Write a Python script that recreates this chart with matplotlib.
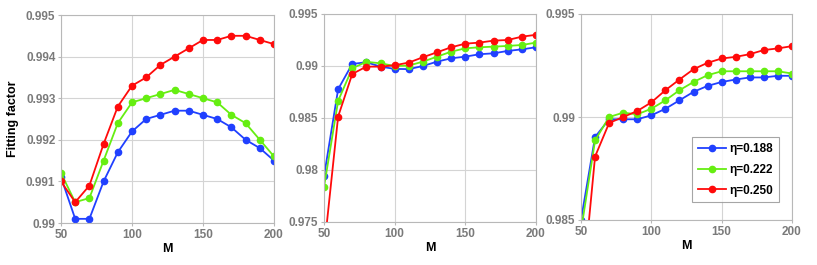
import matplotlib
matplotlib.use("Agg")
import matplotlib.pyplot as plt

M = [50, 60, 70, 80, 90, 100, 110, 120, 130, 140, 150, 160, 170, 180, 190, 200]
labels = ["\u03b7=0.188", "\u03b7=0.222", "\u03b7=0.250"]
colors = ["#2040ff", "#66ee11", "#ff0a0a"]

p1_blue = [0.9911, 0.9901, 0.9901, 0.9910, 0.9917, 0.9922, 0.9925, 0.9926, 0.9927, 0.9927, 0.9926, 0.9925, 0.9923, 0.9920, 0.9918, 0.9915]
p1_green = [0.9912, 0.9905, 0.9906, 0.9915, 0.9924, 0.9929, 0.9930, 0.9931, 0.9932, 0.9931, 0.9930, 0.9929, 0.9926, 0.9924, 0.9920, 0.9916]
p1_red = [0.9910, 0.9905, 0.9909, 0.9919, 0.9928, 0.9933, 0.9935, 0.9938, 0.9940, 0.9942, 0.9944, 0.9944, 0.9945, 0.9945, 0.9944, 0.9943]

p2_blue = [0.97938, 0.98777, 0.9902, 0.99036, 0.98994, 0.98972, 0.9897, 0.9900, 0.99042, 0.99074, 0.9909, 0.99113, 0.99122, 0.99145, 0.9916, 0.9918]
p2_green = [0.97836, 0.98665, 0.98978, 0.9904, 0.99026, 0.9900, 0.99004, 0.99042, 0.9909, 0.99138, 0.9917, 0.9918, 0.99186, 0.99193, 0.99202, 0.99225]
p2_red = [0.9723, 0.98514, 0.98924, 0.98994, 0.98994, 0.99007, 0.99033, 0.99084, 0.99132, 0.9918, 0.99215, 0.99225, 0.99244, 0.9925, 0.99282, 0.9930]

p3_blue = [0.9850, 0.98903, 0.98989, 0.98989, 0.98989, 0.99008, 0.9904, 0.99081, 0.99122, 0.99151, 0.9917, 0.99182, 0.99192, 0.99192, 0.9920, 0.9920]
p3_green = [0.98447, 0.98886, 0.9900, 0.99021, 0.99013, 0.9904, 0.99081, 0.9913, 0.9917, 0.99203, 0.99222, 0.99222, 0.99222, 0.99222, 0.99222, 0.99211]
p3_red = [0.98092, 0.98808, 0.98971, 0.9900, 0.99029, 0.99071, 0.9913, 0.99182, 0.99232, 0.99263, 0.99284, 0.99292, 0.99305, 0.99325, 0.99333, 0.99344]

panels = [
    ([p1_blue, p1_green, p1_red], (0.990, 0.995), [0.990, 0.991, 0.992, 0.993, 0.994, 0.995], ["0.99", "0.991", "0.992", "0.993", "0.994", "0.995"]),
    ([p2_blue, p2_green, p2_red], (0.975, 0.995), [0.975, 0.980, 0.985, 0.990, 0.995], ["0.975", "0.98", "0.985", "0.99", "0.995"]),
    ([p3_blue, p3_green, p3_red], (0.985, 0.995), [0.985, 0.990, 0.995], ["0.985", "0.99", "0.995"]),
]

plt.rcParams['font.family'] = ['Liberation Sans', 'DejaVu Sans']
fig = plt.figure(figsize=(8.17, 2.65), dpi=100)
positions = [
    (61 / 817, 1 - 223 / 265, 213 / 817, 208 / 265),
    (324 / 817, 1 - 222 / 265, 212 / 817, 208 / 265),
    (581 / 817, 1 - 220 / 265, 211 / 817, 206 / 265),
]
gray = "#7a7a7a"
for i, (series, ylim, yt, ytl) in enumerate(panels):
    ax = fig.add_axes(positions[i])
    for s, c, lab in zip(series, colors, labels):
        ax.plot(M, s, color=c, lw=1.3, marker="o", ms=4.5, label=lab, clip_on=True)
    ax.set_xlim(50, 200)
    ax.set_ylim(*ylim)
    ax.set_xticks([50, 100, 150, 200])
    ax.set_yticks(yt)
    ax.set_yticklabels(ytl)
    ax.grid(True, color="#d4d4d4", lw=0.8)
    ax.set_axisbelow(True)
    for sp in ax.spines.values():
        sp.set_color("#b8b8b8")
        sp.set_linewidth(0.8)
    ax.tick_params(length=2.5, width=0.8, color="#b8b8b8", labelsize=8.5, labelcolor=gray, pad=1.5)
    for t in ax.get_xticklabels() + ax.get_yticklabels():
        t.set_fontweight("bold")
    ax.set_xlabel("M", fontsize=9, fontweight="bold", labelpad=2)
    if i == 0:
        ax.set_ylabel("Fitting factor", fontsize=9, fontweight="bold", labelpad=5)
    if i == 2:
        leg = ax.legend(loc="lower right", bbox_to_anchor=(0.94, 0.085),
                        prop={"weight": "bold", "size": 8.5}, frameon=True, fancybox=False,
                        handlelength=2.4, handletextpad=0.3, borderpad=0.5, labelspacing=0.75,
                        borderaxespad=0)
        leg.get_frame().set_edgecolor("#909090")
        leg.get_frame().set_linewidth(0.8)

fig.savefig("out.png", dpi=100)
